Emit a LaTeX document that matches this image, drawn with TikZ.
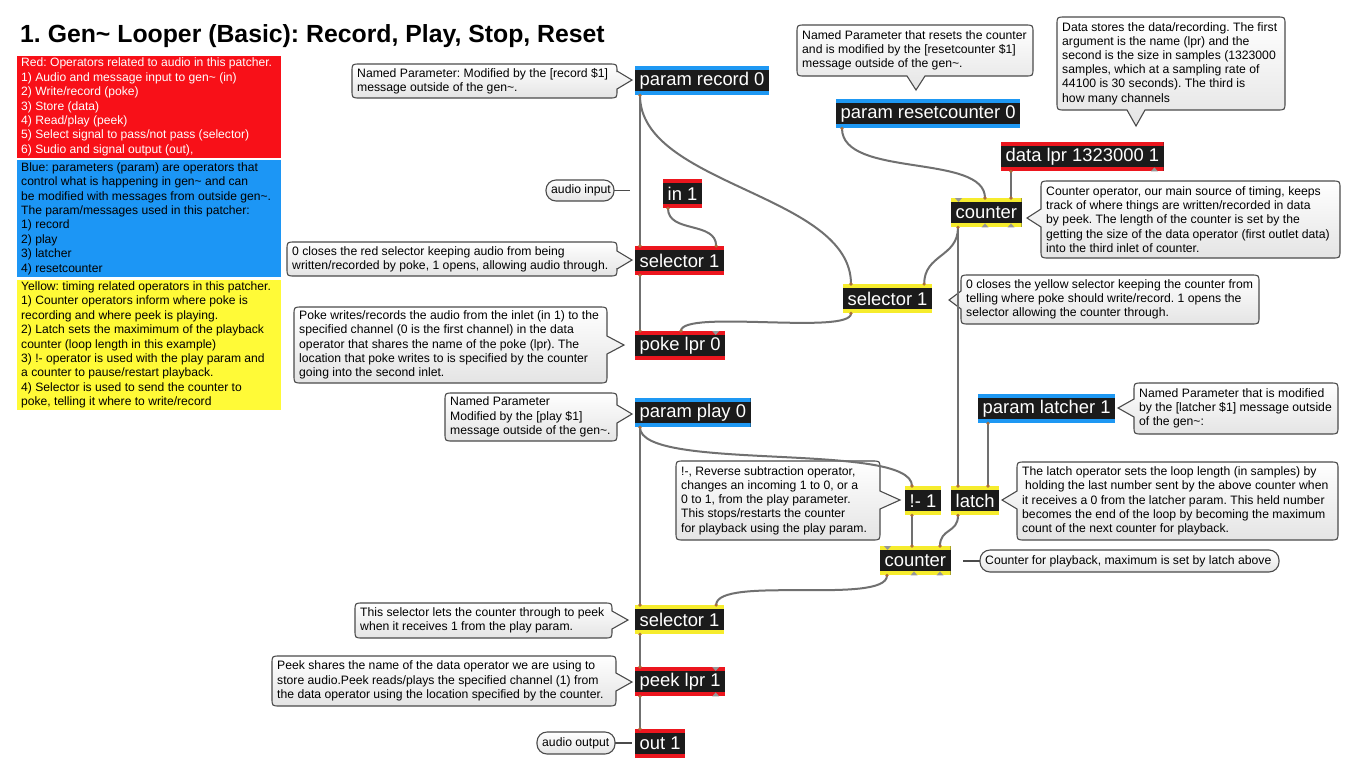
\documentclass[tikz,border=0pt]{standalone}
\usepackage{fontspec}
\setmainfont{Liberation Sans}
\usetikzlibrary{calc}
\definecolor{objblack}{RGB}{27,27,27}
\definecolor{stblue}{RGB}{30,152,243}
\definecolor{stred}{RGB}{236,22,30}
\definecolor{styellow}{RGB}{246,236,45}
\definecolor{pred}{RGB}{248,16,24}
\definecolor{pblue}{RGB}{28,150,245}
\definecolor{pyellow}{RGB}{255,250,55}
\definecolor{cordc}{RGB}{112,112,112}
\definecolor{bubc}{RGB}{75,75,75}
\definecolor{bubbot}{RGB}{228,228,228}
\definecolor{portc}{RGB}{170,110,60}
\definecolor{portgray}{RGB}{150,150,150}
\newcommand{\bubR}[6]{%
\path[bubble] (#1+8,#2) -- (#3-8,#2) .. controls (#3,#2) .. (#3,#2+8) -- (#3,#5-9) -- (#6,#5) -- (#3,#5+9) -- (#3,#4-8) .. controls (#3,#4) .. (#3-8,#4) -- (#1+8,#4) .. controls (#1,#4) .. (#1,#4-8) -- (#1,#2+8) .. controls (#1,#2) .. (#1+8,#2) -- cycle;}
\newcommand{\bubL}[6]{%
\path[bubble] (#1+8,#2) -- (#3-8,#2) .. controls (#3,#2) .. (#3,#2+8) -- (#3,#4-8) .. controls (#3,#4) .. (#3-8,#4) -- (#1+8,#4) .. controls (#1,#4) .. (#1,#4-8) -- (#1,#5+9) -- (#6,#5) -- (#1,#5-9) -- (#1,#2+8) .. controls (#1,#2) .. (#1+8,#2) -- cycle;}
\newcommand{\bubD}[6]{%
\path[bubble] (#1+8,#2) -- (#3-8,#2) .. controls (#3,#2) .. (#3,#2+8) -- (#3,#4-8) .. controls (#3,#4) .. (#3-8,#4) -- (#5+9,#4) -- (#5,#6) -- (#5-9,#4) -- (#1+8,#4) .. controls (#1,#4) .. (#1,#4-8) -- (#1,#2+8) .. controls (#1,#2) .. (#1+8,#2) -- cycle;}
\newcommand{\bubP}[4]{%
\path[bubble, rounded corners=10pt] (#1,#2) rectangle (#3,#4);}
\begin{document}
\frenchspacing
\begin{tikzpicture}[x=1pt,y=-1pt,
  cord/.style={draw=cordc, line width=2pt},
  bubble/.style={draw=bubc, line width=1.1pt, top color=white, bottom color=bubbot},
  tailline/.style={draw=bubc, line width=1.1pt},
  ctext/.style={font=\fontsize{12.2}{14.2}\selectfont, align=left, inner sep=0pt, anchor=west, text=black},
  panel/.style={anchor=north west, inner sep=0pt, minimum width=264pt},
  ptext/.style={anchor=west, inner sep=0pt, align=left, font=\fontsize{12.1}{14.4}\selectfont},
  gen/.style={fill=objblack, text=white, font=\fontsize{18.4}{20}\selectfont, inner xsep=4.5pt, inner ysep=0pt, minimum height=29pt, anchor=north west,
    path picture={\fill[#1] (path picture bounding box.north west) rectangle ([yshift=-4pt]path picture bounding box.north east);
                  \fill[#1] (path picture bounding box.south west) rectangle ([yshift=4pt]path picture bounding box.south east);}},
  portdot/.style={fill=portc},
  portun/.style={fill=portgray}
]
\useasboundingbox (0,0) rectangle (1366,772);
\fill[white] (0,0) rectangle (1366,772);

% title
\node[anchor=base west, inner sep=0pt, font=\fontsize{24.8}{28}\selectfont\bfseries] (title) at (20,42) {1. Gen\textasciitilde{} Looper (Basic): Record, Play, Stop, Reset};

% legend panels
\node[panel, fill=pred, minimum height=102pt] (redp) at (17,56) {};
\node[ptext, text=white] (redt) at (21,107) {Red: Operators related to audio in this patcher.\\1) Audio and message input to gen\textasciitilde{} (in)\\2) Write/record (poke)\\3) Store (data)\\4) Read/play (peek)\\5) Select signal to pass/not pass (selector)\\6) Sudio and signal output (out),};
\node[panel, fill=pblue, minimum height=117pt] (bluep) at (17,160) {};
\node[ptext, text=black] (bluet) at (21,218.5) {Blue: parameters (param) are operators that\\control what is happening in gen\textasciitilde{} and can\\be modified with messages from outside gen\textasciitilde.\\The param/messages used in this patcher:\\1) record\\2) play\\3) latcher\\4) resetcounter};
\node[panel, fill=pyellow, minimum height=130pt] (yellowp) at (17,280) {};
\node[ptext, text=black] (yellowt) at (21,345) {Yellow: timing related operators in this patcher.\\1) Counter operators inform where poke is\\recording and where peek is playing.\\2) Latch sets the maximimum of the playback\\counter (loop length in this example)\\3) !- operator is used with the play param and\\a counter to pause/restart playback.\\4) Selector is used to send the counter to\\poke, telling it where to write/record};

% comment bubbles
\bubR{352}{64}{617}{98}{80}{632}
\node[ctext] (recC) at (357,81) {Named Parameter: Modified by the [record \$1]\\message outside of the gen\textasciitilde.};
\bubP{546}{180}{614}{201}
\draw[tailline] (614,190.5) -- (630,190.5);
\node[ctext] (ainC) at (551,190.5) {audio input};
\bubR{287}{242}{617}{276}{260}{632}
\node[ctext] (selRC) at (292,259) {0 closes the red selector keeping audio from being\\written/recorded by poke, 1 opens, allowing audio through.};
\bubR{294}{307}{607}{383}{345}{624}
\node[ctext] (pokeC) at (299,345) {Poke writes/records the audio from the inlet (in 1) to the\\specified channel (0 is the first channel) in the data\\operator that shares the name of the poke (lpr). The\\location that poke writes to is specified by the counter\\going into the second inlet.};
\bubR{445}{393}{617}{441}{414}{632}
\node[ctext] (playC) at (450,417) {Named Parameter\\Modified by the [play \$1]\\message outside of the gen\textasciitilde.};
\bubD{797}{25}{1033}{76}{916}{90}
\node[ctext] (rstC) at (802,50.5) {Named Parameter that resets the counter\\and is modified by the [resetcounter \$1]\\message outside of the gen\textasciitilde.};
\bubD{1057}{17}{1285}{110}{1136}{126}
\node[ctext] (dataC) at (1062,63.5) {Data stores the data/recording. The first\\argument is the name (lpr) and the\\second is the size in samples (1323000\\samples, which at a sampling rate of\\44100 is 30 seconds). The third is\\how many channels};
\bubL{1041}{181}{1340}{258}{218}{1027}
\node[ctext] (cnt1C) at (1046,219.5) {Counter operator, our main source of timing, keeps\\track of where things are written/recorded in data\\by peek. The length of the counter is set by the\\getting the size of the data operator (first outlet data)\\into the third inlet of counter.};
\bubL{961}{275}{1259}{324}{300}{949}
\node[ctext] (selYC) at (966,299.5) {0 closes the yellow selector keeping the counter from\\telling where poke should write/record. 1 opens the\\selector allowing the counter through.};
\bubR{676}{461}{880}{540}{500}{900}
\node[ctext] (notC) at (681,500.5) {!-, Reverse subtraction operator,\\changes an incoming 1 to 0, or a\\0 to 1, from the play parameter.\\This stops/restarts the counter\\for playback using the play param.};
\bubL{1134}{383}{1338}{434}{408}{1118}
\node[ctext] (latcherC) at (1139,408.5) {Named Parameter that is modified\\by the [latcher \$1] message outside\\of the gen\textasciitilde:};
\bubL{1017}{462}{1338}{540}{500}{1002}
\node[ctext] (latchC) at (1022,501) {The latch operator sets the loop length (in samples) by\\\hspace*{3pt}holding the last number sent by the above counter when\\it receives a 0 from the latcher param. This held number\\becomes the end of the loop by becoming the maximum\\count of the next counter for playback.};
\bubP{980}{550}{1279}{572}
\draw[tailline] (963,561) -- (980,561);
\node[ctext] (cnt2C) at (985,561) {Counter for playback, maximum is set by latch above};
\bubR{355}{603}{612}{638}{620}{628}
\node[ctext] (selBC) at (360,620.5) {This selector lets the counter through to peek\\when it receives 1 from the play param.};
\bubR{272}{656}{616}{706}{682}{632}
\node[ctext] (peekC) at (277,681) {Peek shares the name of the data operator we are using to\\store audio.Peek reads/plays the specified channel (1) from\\the data operator using the location specified by the counter.};
\bubP{537}{732}{615}{754}
\draw[tailline] (615,743) -- (632,743);
\node[ctext] (aoutC) at (542,743) {audio output};

% gen objects
\node[gen=stblue] (rec) at (635,66) {param record 0};
\node[gen=stblue] (rst) at (836,99) {param resetcounter 0};
\node[gen=stred] (data) at (1001,142) {data lpr 1323000 1};
\node[gen=styellow] (cnt1) at (951,198) {counter};
\node[gen=stred] (in1) at (663,179) {in 1};
\node[gen=stred] (selR) at (635,246) {selector 1};
\node[gen=styellow] (selY) at (843,284) {selector 1};
\node[gen=stred] (poke) at (635,331) {poke lpr 0};
\node[gen=stblue] (play) at (635,398) {param play 0};
\node[gen=stblue] (latcher) at (978,394) {param latcher 1};
\node[gen=styellow] (notop) at (905,486) {!- 1};
\node[gen=styellow] (latch) at (951,486) {latch};
\node[gen=styellow] (cnt2) at (880,546) {counter};
\node[gen=styellow] (selB) at (635,605) {selector 1};
\node[gen=stred] (peek) at (635,667) {peek lpr 1};
\node[gen=stred] (out) at (635,729) {out 1};

% port coordinates
\coordinate (recO) at ($(rec.south west)+(5,0)$);
\coordinate (rstO) at ($(rst.south west)+(6,0)$);
\coordinate (dataO) at ($(data.south west)+(10,0)$);
\coordinate (cnt1I2) at ($(cnt1.north west)+(34,0)$);
\coordinate (cnt1I3) at ($(cnt1.north west)+(60,0)$);
\coordinate (cnt1O) at ($(cnt1.south west)+(7,0)$);
\coordinate (in1O) at ($(in1.south west)+(5,0)$);
\coordinate (selRI1) at ($(selR.north west)+(5,0)$);
\coordinate (selRI2) at ($(selR.north east)+(-8,0)$);
\coordinate (selRO) at ($(selR.south west)+(5,0)$);
\coordinate (selYI1) at ($(selY.north west)+(8,0)$);
\coordinate (selYI2) at ($(selY.north east)+(-8,0)$);
\coordinate (selYO) at ($(selY.south west)+(8,0)$);
\coordinate (pokeI1) at ($(poke.north west)+(5,0)$);
\coordinate (pokeI2) at ($(poke.north west)+(46,0)$);
\coordinate (playO) at ($(play.south west)+(5,0)$);
\coordinate (latcherO) at ($(latcher.south west)+(10,0)$);
\coordinate (notI) at ($(notop.north west)+(7,0)$);
\coordinate (notO) at ($(notop.south west)+(7,0)$);
\coordinate (latchI1) at ($(latch.north west)+(7,0)$);
\coordinate (latchI2) at ($(latch.north west)+(37,0)$);
\coordinate (latchO) at ($(latch.south west)+(7,0)$);
\coordinate (cnt2I2) at ($(cnt2.north west)+(32,0)$);
\coordinate (cnt2I3) at ($(cnt2.north west)+(60,0)$);
\coordinate (cnt2O) at ($(cnt2.south west)+(7,0)$);
\coordinate (selBI1) at ($(selB.north west)+(5,0)$);
\coordinate (selBI2) at ($(selB.north east)+(-8,0)$);
\coordinate (selBO) at ($(selB.south west)+(5,0)$);
\coordinate (peekI1) at ($(peek.north west)+(5,0)$);
\coordinate (peekO) at ($(peek.south west)+(5,0)$);
\coordinate (outI) at ($(out.north west)+(5,0)$);

% patch cords
\draw[cord] (recO) -- (selRI1);
\draw[cord] (recO) .. controls +(0,90) and +(0,-90) .. (selYI1);
\draw[cord] (in1O) .. controls +(0,25) and +(0,-25) .. (selRI2);
\draw[cord] (selRO) -- (pokeI1);
\draw[cord] (selYO) .. controls +(0,22) and +(0,-22) .. (pokeI2);
\draw[cord] (rstO) .. controls +(0,50) and +(0,-45) .. (cnt1I2);
\draw[cord] (dataO) -- (cnt1I3);
\draw[cord] (cnt1O) .. controls +(0,30) and +(0,-30) .. (selYI2);
\draw[cord] (cnt1O) -- (latchI1);
\draw[cord] (latcherO) -- (latchI2);
\draw[cord] (playO) -- (selBI1);
\draw[cord] (playO) .. controls +(0,45) and +(0,-45) .. (notI);
\draw[cord] (notO) -- (cnt2I2);
\draw[cord] (latchO) .. controls +(0,18) and +(0,-18) .. (cnt2I3);
\draw[cord] (cnt2O) .. controls +(0,30) and +(0,-30) .. (selBI2);
\draw[cord] (selBO) -- (peekI1);
\draw[cord] (peekO) -- (outI);

% connected port dots
\foreach \p in {recO,rstO,dataO,cnt1I2,cnt1I3,cnt1O,in1O,selRI1,selRI2,selRO,selYI1,selYI2,selYO,pokeI1,pokeI2,playO,latcherO,notI,notO,latchI1,latchI2,latchO,cnt2I2,cnt2I3,cnt2O,selBI1,selBI2,selBO,peekI1,peekO,outI}
  \fill[portdot] (\p) circle (1.8pt);
% unconnected ports
\fill[portun] ($(cnt1.north west)+(4,0)$) -- ++(7,0) -- ++(-3.5,4) -- cycle;
\fill[portun] ($(cnt1.south west)+(30.5,0)$) -- ++(7,0) -- ++(-3.5,-4) -- cycle;
\fill[portun] ($(cnt1.south west)+(56.5,0)$) -- ++(7,0) -- ++(-3.5,-4) -- cycle;
\fill[portun] ($(cnt2.north west)+(4,0)$) -- ++(7,0) -- ++(-3.5,4) -- cycle;
\fill[portun] ($(cnt2.south west)+(30.5,0)$) -- ++(7,0) -- ++(-3.5,-4) -- cycle;
\fill[portun] ($(cnt2.south west)+(56.5,0)$) -- ++(7,0) -- ++(-3.5,-4) -- cycle;
\fill[portun] ($(data.south east)+(-13,0)$) -- ++(7,0) -- ++(-3.5,-4) -- cycle;
\fill[portun] ($(poke.north east)+(-13,0)$) -- ++(7,0) -- ++(-3.5,4) -- cycle;
\fill[portun] ($(peek.north east)+(-13,0)$) -- ++(7,0) -- ++(-3.5,4) -- cycle;
\fill[portun] ($(peek.south east)+(-13,0)$) -- ++(7,0) -- ++(-3.5,-4) -- cycle;
\end{tikzpicture}
\end{document}
